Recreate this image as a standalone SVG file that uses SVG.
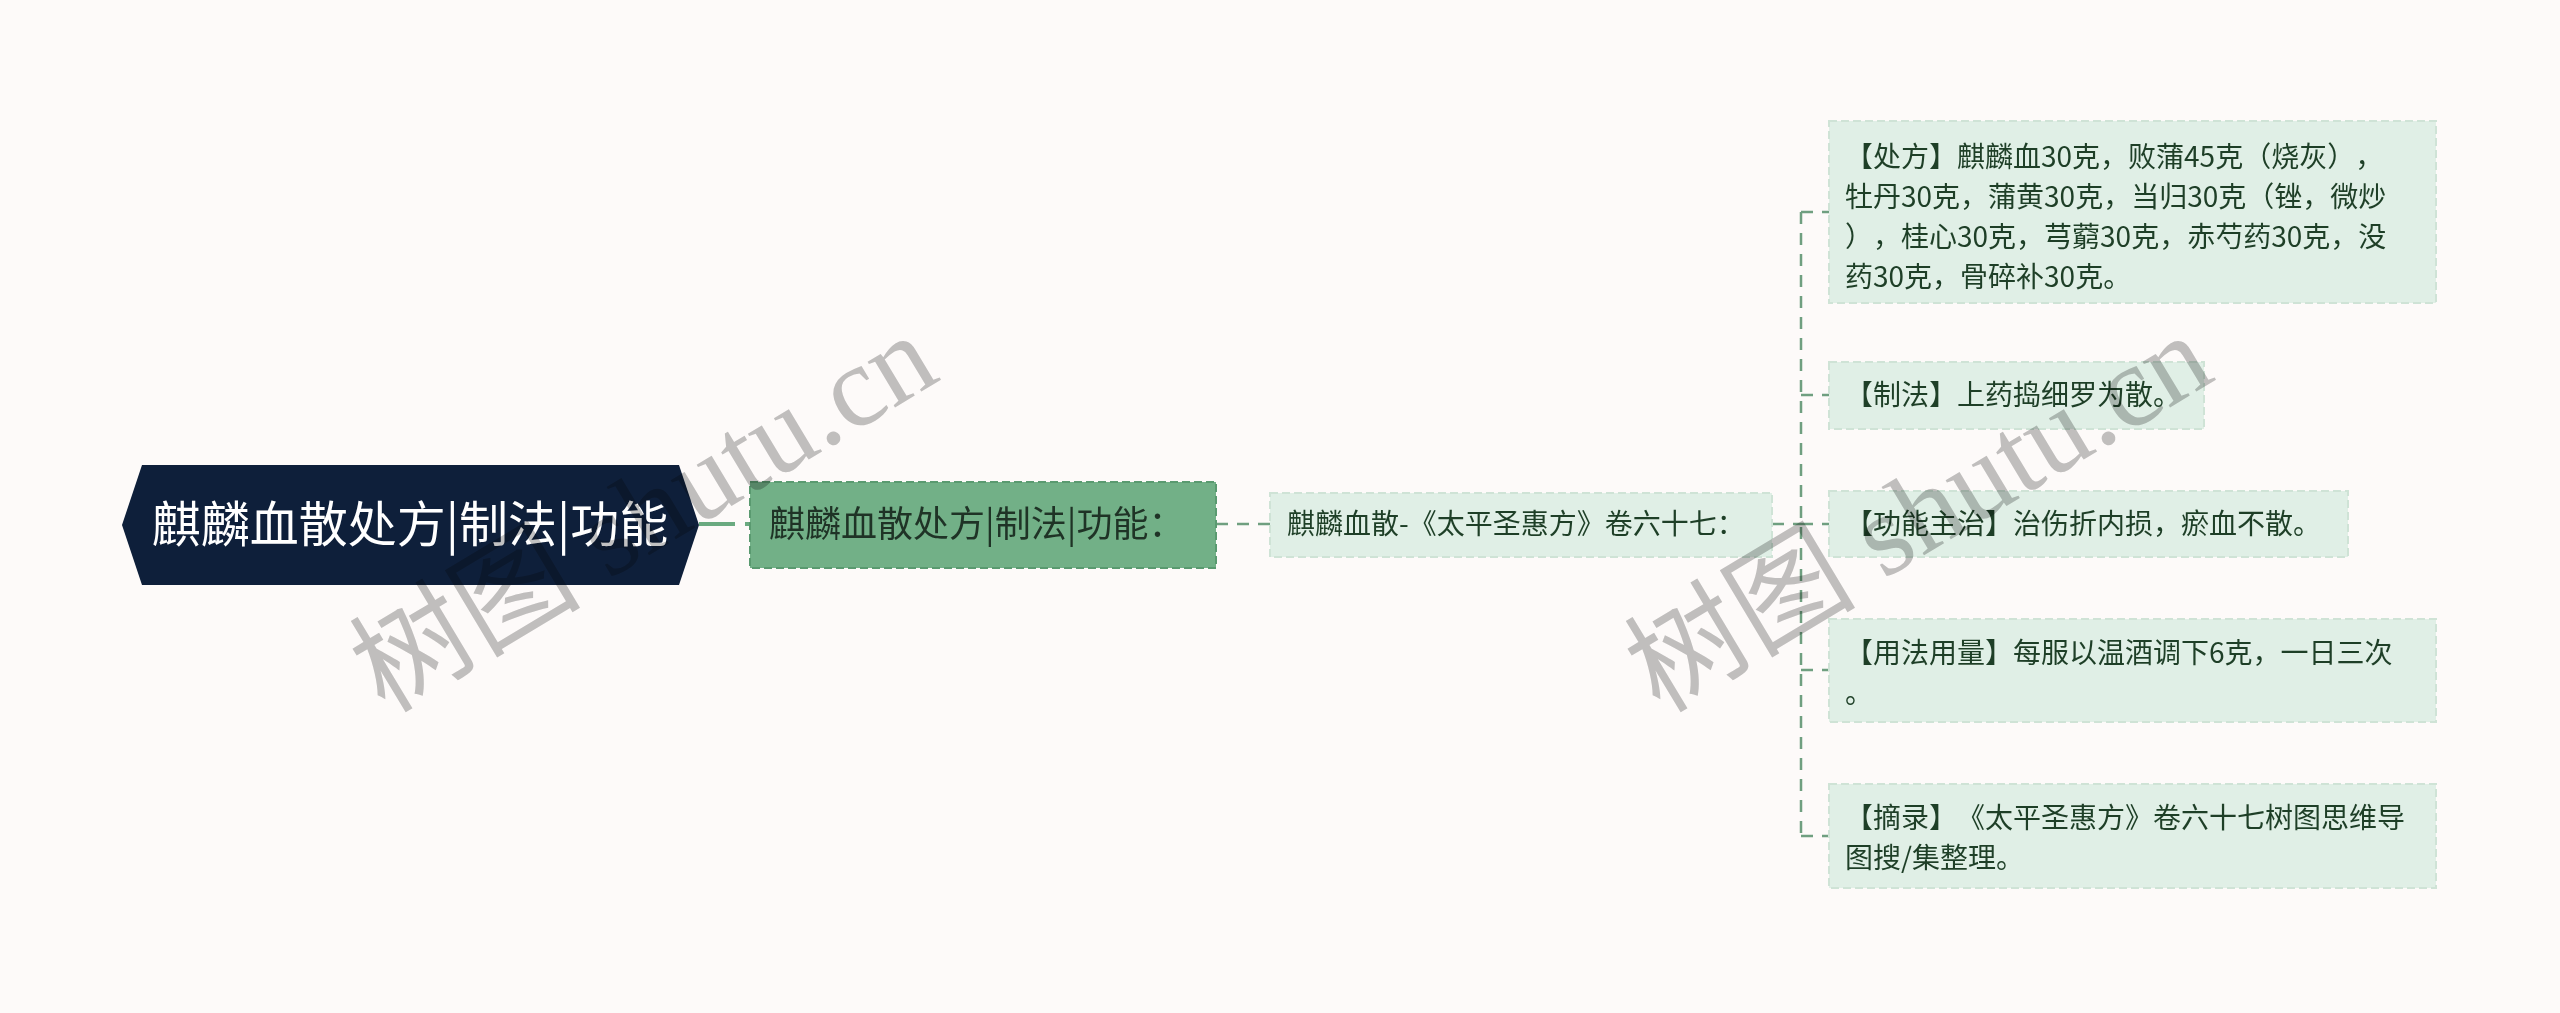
<svg xmlns="http://www.w3.org/2000/svg" width="2560" height="1013" viewBox="0 0 2560 1013">
<style>
text{font-family:"Noto Sans CJK SC","Noto Sans",sans-serif;text-spacing-trim:space-all;font-feature-settings:"halt" 0,"chws" 0;}
.leaf rect{fill:#e0efe6;stroke:#cfe3d6;stroke-width:2;stroke-dasharray:8 4;}
.leaf text{font-size:28px;fill:#1e3f27;}
.dash{fill:none;stroke:#6f9f80;stroke-width:2.5;stroke-dasharray:12 9;}
.wm{font-family:"Liberation Serif","Noto Sans CJK SC",serif;font-size:116px;fill:#c2c2c2;mix-blend-mode:multiply;}
</style>
<rect width="2560" height="1013" fill="#fdfaf9"/>
<g id="connectors">
<path d="M699 524 H752" fill="none" stroke="#6aaa80" stroke-width="4" stroke-dasharray="36 10"/>
<path class="dash" d="M1216 524 H1270"/>
<path class="dash" d="M1772 524 H1801"/>
<path class="dash" d="M1801 212 V836"/>
<path class="dash" d="M1801 212 H1829"/>
<path class="dash" d="M1801 395 H1829"/>
<path class="dash" d="M1801 524 H1829"/>
<path class="dash" d="M1801 670 H1829"/>
<path class="dash" d="M1801 836 H1829"/>
</g>
<g id="root">
<polygon points="122,525 142,465 679,465 699,525 679,585 142,585" fill="#0e1f3a"/>
<text x="410" y="542" font-size="49" fill="#ffffff" text-anchor="middle">麒麟血散处方|制法|功能</text>
</g>
<g id="main">
<rect x="750" y="482" width="466" height="86" fill="#72b087" stroke="#5a9a70" stroke-width="2" stroke-dasharray="8 4"/>
<text x="769" y="537" font-size="36" fill="#1f3326">麒麟血散处方|制法|功能：</text>
</g>
<g id="source" class="leaf">
<rect x="1270" y="493" width="502" height="64"/>
<text x="1287" y="534">麒麟血散-《太平圣惠方》卷六十七：</text>
</g>
<g id="leaf1" class="leaf">
<rect x="1829" y="121" width="607" height="182"/>
<text x="1845" y="167">【处方】麒麟血30克，败蒲45克（烧灰），</text>
<text x="1845" y="207">牡丹30克，蒲黄30克，当归30克（锉，微炒</text>
<text x="1845" y="247">），桂心30克，芎藭30克，赤芍药30克，没</text>
<text x="1845" y="287">药30克，骨碎补30克。</text>
</g>
<g id="leaf2" class="leaf">
<rect x="1829" y="362" width="375" height="67"/>
<text x="1845" y="405">【制法】上药捣细罗为散。</text>
</g>
<g id="leaf3" class="leaf">
<rect x="1829" y="491" width="519" height="66"/>
<text x="1845" y="534">【功能主治】治伤折内损，瘀血不散。</text>
</g>
<g id="leaf4" class="leaf">
<rect x="1829" y="619" width="607" height="103"/>
<text x="1845" y="663">【用法用量】每服以温酒调下6克，一日三次</text>
<text x="1845" y="703">。</text>
</g>
<g id="leaf5" class="leaf">
<rect x="1829" y="784" width="607" height="104"/>
<text x="1845" y="828">【摘录】《太平圣惠方》卷六十七树图思维导</text>
<text x="1845" y="868">图搜/集整理。</text>
</g>
<g id="watermarks">
<text class="wm" transform="translate(644,514) rotate(-31)" text-anchor="middle" y="38">树图 shutu.cn</text>
<text class="wm" transform="translate(1919,514) rotate(-31)" text-anchor="middle" y="38">树图 shutu.cn</text>
</g>
</svg>
